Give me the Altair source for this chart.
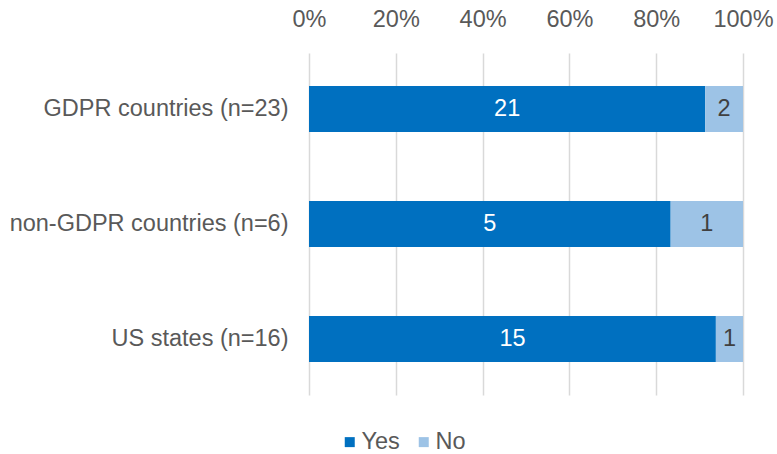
import altair as alt
import pandas as pd

groups = ["GDPR countries (n=23)", "non-GDPR countries (n=6)", "US states (n=16)"]
yes_counts = [21, 5, 15]
no_counts = [2, 1, 1]
responses = ["Yes", "No"]
colors = ["#0070C0", "#9DC3E6"]
x_ticks = [0, 0.2, 0.4, 0.6, 0.8, 1.0]

rows = []
for g, y, n in zip(groups, yes_counts, no_counts):
    rows.append({"group": g, "response": "Yes", "count": y, "order": 0})
    rows.append({"group": g, "response": "No", "count": n, "order": 1})
df = pd.DataFrame(rows)

FONT = "Liberation Sans"
FS = 23.5

base = alt.Chart(df).transform_stack(
    stack="count",
    groupby=["group"],
    as_=["x0", "x1"],
    offset="normalize",
    sort=[alt.SortField("order", order="ascending")],
).transform_calculate(mid="(datum.x0 + datum.x1) / 2")

yenc = alt.Y(
    "group:N",
    sort=groups,
    title=None,
    scale=alt.Scale(paddingInner=0.6, paddingOuter=0.287),
    axis=alt.Axis(
        domain=False, ticks=False, labelFont=FONT, labelFontSize=FS,
        labelColor="#595959", labelPadding=21, labelLimit=400,
    ),
)

bars = base.mark_bar().encode(
    x=alt.X(
        "x0:Q",
        scale=alt.Scale(domain=[0, 1], nice=False),
        title=None,
        axis=alt.Axis(
            orient="top", values=x_ticks, format=".0%", grid=True,
            gridColor="#D9D9D9", gridWidth=1.5, domain=False, ticks=False,
            labelFont=FONT, labelFontSize=FS, labelColor="#595959",
            labelPadding=22, labelFlush=False, labelBound=False,
            labelOverlap=False,
        ),
    ),
    x2="x1:Q",
    y=yenc,
    color=alt.Color(
        "response:N",
        scale=alt.Scale(domain=responses, range=colors),
        legend=alt.Legend(
            title=None, orient="none", direction="horizontal",
            legendX=29, legendY=377, symbolType="square", symbolSize=100,
            symbolStrokeWidth=0, labelFont=FONT, labelFontSize=FS,
            labelColor="#595959", columnPadding=12, labelOffset=0, padding=0,
        ),
    ),
)

labels = base.mark_text(font=FONT, fontSize=FS).encode(
    x=alt.X("mid:Q"),
    y=alt.Y("group:N", sort=groups),
    text="count:Q",
    color=alt.condition(alt.datum.response == "Yes", alt.value("white"), alt.value("#404040")),
)

chart = (
    alt.layer(bars, labels)
    .properties(
        width=434, height=342,
        autosize=alt.AutoSizeParams(type="none"),
        padding={"left": 309, "top": 53, "right": 34, "bottom": 59},
    )
    .configure_view(stroke=None)
)

chart.save("out.html", embed_options={"renderer": "svg", "actions": False})
